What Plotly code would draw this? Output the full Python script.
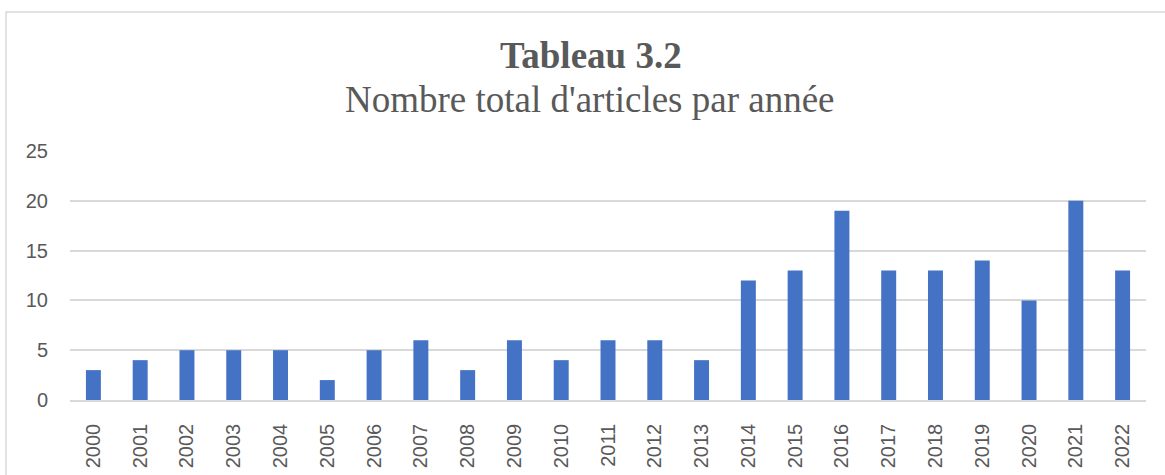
import plotly.graph_objects as go

years = [str(y) for y in range(2000, 2023)]
counts = [3, 4, 5, 5, 5, 2, 5, 6, 3, 6, 4, 6, 6, 4, 12, 13, 19, 13, 13, 14, 10, 20, 13]
title_main = "Tableau 3.2"
title_sub = "Nombre total d'articles par année"

W, H = 1165, 475
L, R, T, B = 70, 19, 151, 75
pw, ph = W - L - R, H - T - B

def px(x):
    return (x - L) / pw

def py(y):
    return (H - B - y) / ph

fig = go.Figure(go.Bar(x=years, y=counts, marker=dict(color="#4472C4", line=dict(width=0)), width=0.32))

fig.update_layout(
    width=W, height=H,
    margin=dict(l=L, r=R, t=T, b=B, autoexpand=False),
    plot_bgcolor="white", paper_bgcolor="white",
    showlegend=False,
    font=dict(family="Liberation Sans, Arial", color="#595959", size=20),
    xaxis=dict(type="category", tickangle=-90, showgrid=False, showline=True, automargin=False,
               linecolor="#d9d9d9", linewidth=1.5, ticks="", ticklabelstandoff=14,
               tickfont=dict(size=20, color="#595959")),
    yaxis=dict(range=[0, 25], dtick=5, showgrid=True, gridcolor="#d9d9d9", gridwidth=1.5,
               zeroline=False, showline=False, ticks="", ticklabelstandoff=21, automargin=False,
               tickfont=dict(size=20, color="#595959")),
    annotations=[
        dict(text="<b>" + title_main + "</b>", xref="paper", yref="paper", x=px(591), y=py(55),
             showarrow=False, font=dict(family="Liberation Serif, Times New Roman", size=37, color="#595959"),
             xanchor="center", yanchor="middle"),
        dict(text=title_sub, xref="paper", yref="paper", x=px(590), y=py(99),
             showarrow=False, font=dict(family="Liberation Serif, Times New Roman", size=37, color="#595959"),
             xanchor="center", yanchor="middle"),
    ],
    shapes=[
        dict(type="rect", xref="paper", yref="paper", x0=px(6), x1=px(1180), y0=py(500), y1=py(12),
             line=dict(color="#d9d9d9", width=1.5), layer="below"),
    ],
)

fig.write_html("out.html", config={"displayModeBar": False},
               post_script="document.body.style.margin='0';document.body.style.overflow='hidden';")
